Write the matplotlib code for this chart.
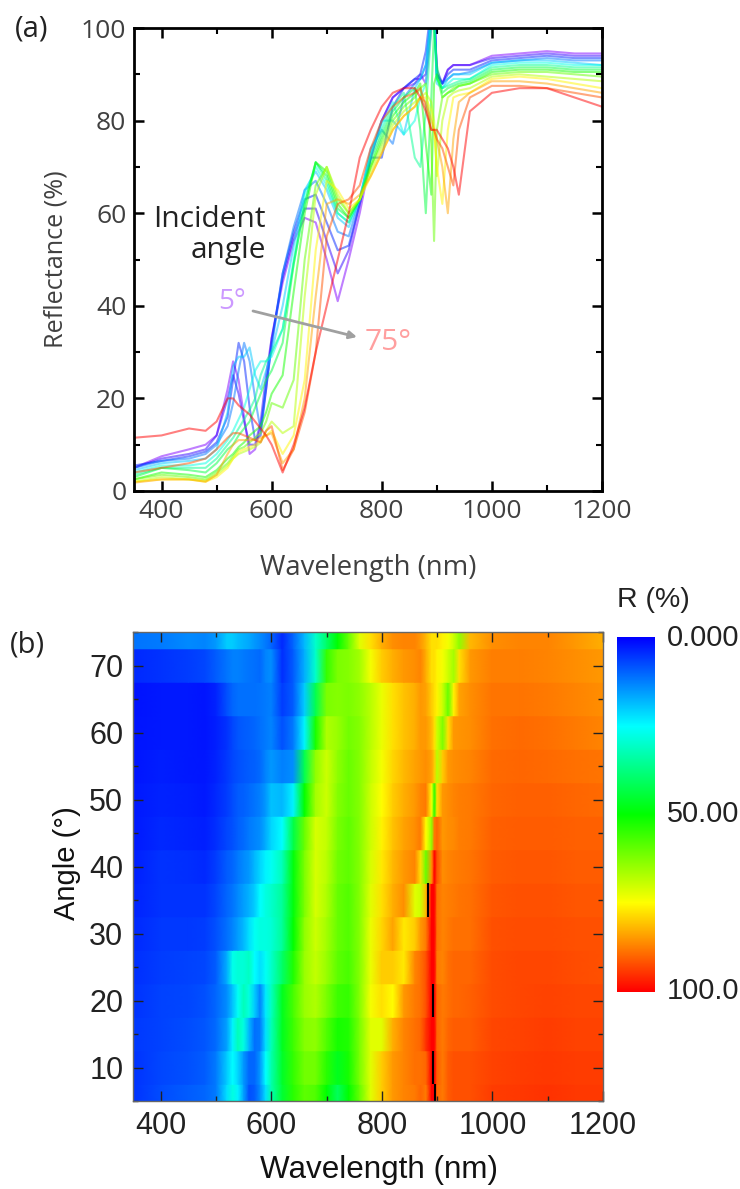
import numpy as np
import matplotlib
matplotlib.use("Agg")
import matplotlib.pyplot as plt
from matplotlib.colors import LinearSegmentedColormap, hsv_to_rgb
from matplotlib.ticker import MultipleLocator

angles = [5, 10, 15, 20, 25, 30, 35, 40, 45, 50, 55, 60, 65, 70, 75]
wavelengths = [350, 400, 450, 480, 500, 520, 530, 540, 550, 560, 570, 580, 590, 600, 620,
               640, 660, 680, 700, 720, 740, 760, 780, 800, 820, 840, 860, 870, 880, 890,
               895, 900, 910, 920, 930, 940, 960, 1000, 1050, 1100, 1150, 1200]

r05 = [5,7.5,9,10,12, 22,28,24,16,8, 9,14,22,33,45, 54,59,58,50,41, 50,60,72,80,85, 87,88,90,88,100, 104,90,88,91,92, 92,92,94,94.5,95, 94.5,94.5]
r10 = [5,7,8,9,12, 20,25,21,15,10, 10,15,25,33,46, 55,61,61,54,47, 52,62,72,80,85, 87,89,89,90,102, 105,91,88,91,92, 92,92,93.5,94,94.5, 94,94]
r15 = [5.5,6.5,7.5,8.5,10.5, 16,24,32,28,18, 11,12,22,32,47, 56,63,64,58,52, 53,62,72,72,83, 87,89,90,95,105, 106,90,88,90,91, 91,91,93,93.5,94, 93.5,93.5]
r20 = [5,6.5,7,8,10, 14,19,26,32,28, 20,13,23,31,47, 57,65,67,62,56, 55,63,74,78,75, 85,88,89,92,103, 105,90,88,89,90, 90,90.5,92.5,93,93.5, 93,93]
r25 = [4.5,6,6.5,7,9, 17,27,29,29,31, 25,22,26,30,40, 53,65,69,65,59, 57,63,73,80,80, 77,87,89,92,104, 103,88,87,89,90, 90,90,92.5,93,93, 92.5,92]
r30 = [4,5.5,5.5,6,8, 11,13,15.5,18,22, 26,28,28,29,35, 50,64,70,66,60, 58,63,73,79,84, 77,80,85,88,102, 102,89,87,88,89, 89,89,92,92.5,92.5, 92,92]
r35 = [3.5,5,5,5,7, 10,11.5,13.5,15.5,17.5, 20,25,28,30,35, 49,62,71,67,60, 58,63,72,78,83, 86,72,70,82,100, 101,89,87,87.5,88, 88.5,89,91.5,92,92, 91.5,91.5]
r40 = [3,5,4.5,4,6, 9,10,12,13.5,15, 18,21,24,26,32, 49,62,71,68,61, 59,63,71,77,82, 85,87,78,60,85, 100,92,86,87,87.5, 88,88.5,91,91.5,91.5, 91,91]
r45 = [2.5,4,3.5,3,4.5, 7,8,9.5,10.5,12, 13,14,17,21,25, 43,60,71,69,62, 59,63,70,76,81, 84,86,88,75,64, 88,90,85,86,86.5, 87.5,88,90.5,91,91, 90.5,90.5]
r50 = [2.5,3.5,3,2.5,4, 6,7.5,9,9.5,10.5, 11.5,12.5,15,19,18, 24,50,66,70,63, 60,63,70,75,80, 83,85,87,88,75, 54,78,85,86,87, 87.5,88,90,90.5,90.5, 90,89.5]
r55 = [2,3,2.5,2.2,3.5, 5.5,7,8,8.5,9, 9.5,10.5,13,15,12.5, 14,42,64,70,64, 60,63,69,74,79, 82,84,85,86,84, 80,68,80,85,86, 86.5,87,89.5,90,89.5, 89,88.5]
r60 = [2,2.5,2.5,2,3, 5,7,8.5,9,9.5, 10,11,12,13,8, 12,24,52,67,65, 61,63,68,73,78, 81,83,85,85,82, 78,70,62,78,85, 85.5,86,89,89.5,89, 88,87]
r65 = [1.8,2.5,2.5,2,3.5, 8,10,11,11,11, 11,11.5,12,12.5,6, 9,20,42,62,63, 62,64,68,73,78, 81,83,85,84,80, 78,76,70,60,76, 84,86,88.5,88.5,88, 87,86]
r70 = [4,5,6,7,9, 11.5,12.5,12.5,12,11.5, 11,10.5,13,14,4.5, 9,17,30,55,62, 63,66,74,80,83, 85,86,87,83,78, 78,76,74,70,66, 78,85,87.5,87.5,87, 86,85]
r75 = [11.5,12,13.5,13,15, 20,20,18.5,17.5,16.5, 15,13.5,12,10,4, 10,18,30,40,50, 60,72,78,83,86, 87,87,85,82,78, 78,78,76,74,70, 64,82,86,87,87, 85,83]
spectra = [r05, r10, r15, r20, r25, r30, r35, r40, r45, r50, r55, r60, r65, r70, r75]

# cells that overflow the colour scale in panel (b): angle, wavelength
over_angle = [35, 20, 10, 5]
over_wl = [884, 893, 893, 897]

cbar_labels = ["0.000", "50.00", "100.0"]
x_ticks = [400, 600, 800, 1000, 1200]

W, H = 740, 1189
fig = plt.figure(figsize=(W / 100, H / 100), dpi=100)


def rect(l, t, r, b):
    return [l / W, 1 - b / H, (r - l) / W, (b - t) / H]


def fxy(x, y):
    return x / W, 1 - y / H


UI = ["Open Sans", "DejaVu Sans"]
AR = ["Liberation Sans", "DejaVu Sans"]
GREY = "#404040"

# panel (a)
ax = fig.add_axes(rect(134, 28, 602, 491))
n = len(angles)
for i, row in enumerate(spectra):
    hue = 0.75 * (1 - i / (n - 1))
    col = hsv_to_rgb((hue, 1, 1))
    ax.plot(wavelengths, row, color=col, lw=1.5, alpha=0.5, solid_joinstyle="round")
ax.set_xlim(350, 1200)
ax.set_ylim(0, 100)
ax.xaxis.set_major_locator(MultipleLocator(200))
ax.xaxis.set_minor_locator(MultipleLocator(100))
ax.yaxis.set_major_locator(MultipleLocator(20))
ax.yaxis.set_minor_locator(MultipleLocator(10))
ax.tick_params(which="major", direction="in", length=7, width=1.8, top=True, right=True,
               labelsize=19, labelcolor=GREY, pad=5.5)
ax.tick_params(which="minor", direction="in", length=4, width=1.5, top=True, right=True)
for s in ax.spines.values():
    s.set_linewidth(2)
for t in ax.get_xticklabels() + ax.get_yticklabels():
    t.set_family(UI)
fig.text(*fxy(368, 568), "Wavelength (nm)", ha="center", va="center", fontsize=19.8, color=GREY, family=UI)
fig.text(*fxy(56, 259), "Reflectance (%)", ha="center", va="center", rotation=90, fontsize=18.2, color=GREY, family=UI)
fig.text(*fxy(15, 29), "(a)", ha="left", va="center", fontsize=21, color="#222222", family=UI)
fig.text(*fxy(266, 235), "Incident\nangle", ha="right", va="center", fontsize=21.5, color="#222222",
         family=UI, linespacing=1.05)
fig.text(*fxy(218, 302), "5°", ha="left", va="center", fontsize=20, color="#cc99ff", family=UI)
fig.text(*fxy(365, 343), "75°", ha="left", va="center", fontsize=21.5, color="#ff9f9f", family=UI)
fig.add_artist(matplotlib.patches.FancyArrowPatch(
    fxy(253, 311), fxy(357, 337), transform=fig.transFigure, arrowstyle="-|>",
    mutation_scale=11, color="#a0a0a0", lw=2, shrinkA=0, shrinkB=0))

# panel (b)
cmap = LinearSegmentedColormap.from_list("bcgyr", ["#0000ff", "#00ffff", "#00ff00", "#ffff00", "#ff0000"], N=512)
axb = fig.add_axes(rect(133, 632, 603, 1101))
for i, (a, row) in enumerate(zip(angles, spectra)):
    y0 = max(a - 2.5, angles[0])
    y1 = min(a + 2.5, angles[-1])
    c = np.clip(np.array([row, row], dtype=float), 0, 100)
    axb.pcolormesh(wavelengths, [y0, y1], c, shading="gouraud", cmap=cmap, vmin=0, vmax=100)
for a, w in zip(over_angle, over_wl):
    axb.plot([w, w], [max(a - 2.5, 5), a + 2.5], color="black", lw=1.5, solid_capstyle="butt")
axb.set_xlim(350, 1200)
axb.set_ylim(5, 75)
axb.set_xticks(x_ticks)
axb.xaxis.set_minor_locator(MultipleLocator(100))
axb.yaxis.set_major_locator(MultipleLocator(10))
axb.yaxis.set_minor_locator(MultipleLocator(5))
axb.tick_params(which="major", direction="in", length=7, width=1, top=True, right=True,
                labelsize=22, labelcolor="#222222", pad=7, color="#222222")
axb.tick_params(which="minor", direction="in", length=3.5, width=1, top=True, right=True, color="#222222")
for s in axb.spines.values():
    s.set_linewidth(1)
    s.set_color("#666666")
for t in axb.get_xticklabels() + axb.get_yticklabels():
    t.set_family(AR)
fig.text(*fxy(379, 1170), "Wavelength (nm)", ha="center", va="center", fontsize=22.6, color="#111111", family=AR)
fig.text(*fxy(67, 863), "Angle (°)", ha="center", va="center", rotation=90, fontsize=21, color="#111111", family=AR)
fig.text(*fxy(10, 645), "(b)", ha="left", va="center", fontsize=21, color="#222222", family=UI)

# colour bar
cax = fig.add_axes(rect(617, 637, 655, 992))
cax.imshow(np.linspace(0, 100, 256).reshape(-1, 1), aspect="auto", cmap=cmap, vmin=0, vmax=100)
cax.axis("off")
for lab, y in zip(cbar_labels, [638, 814, 991]):
    fig.text(*fxy(667, y), lab, ha="left", va="center", fontsize=20.8, color="#222222", family=AR)
fig.text(*fxy(617, 600), "R (%)", ha="left", va="center", fontsize=20.5, color="#222222", family=AR)

fig.savefig("out.png", dpi=100)
